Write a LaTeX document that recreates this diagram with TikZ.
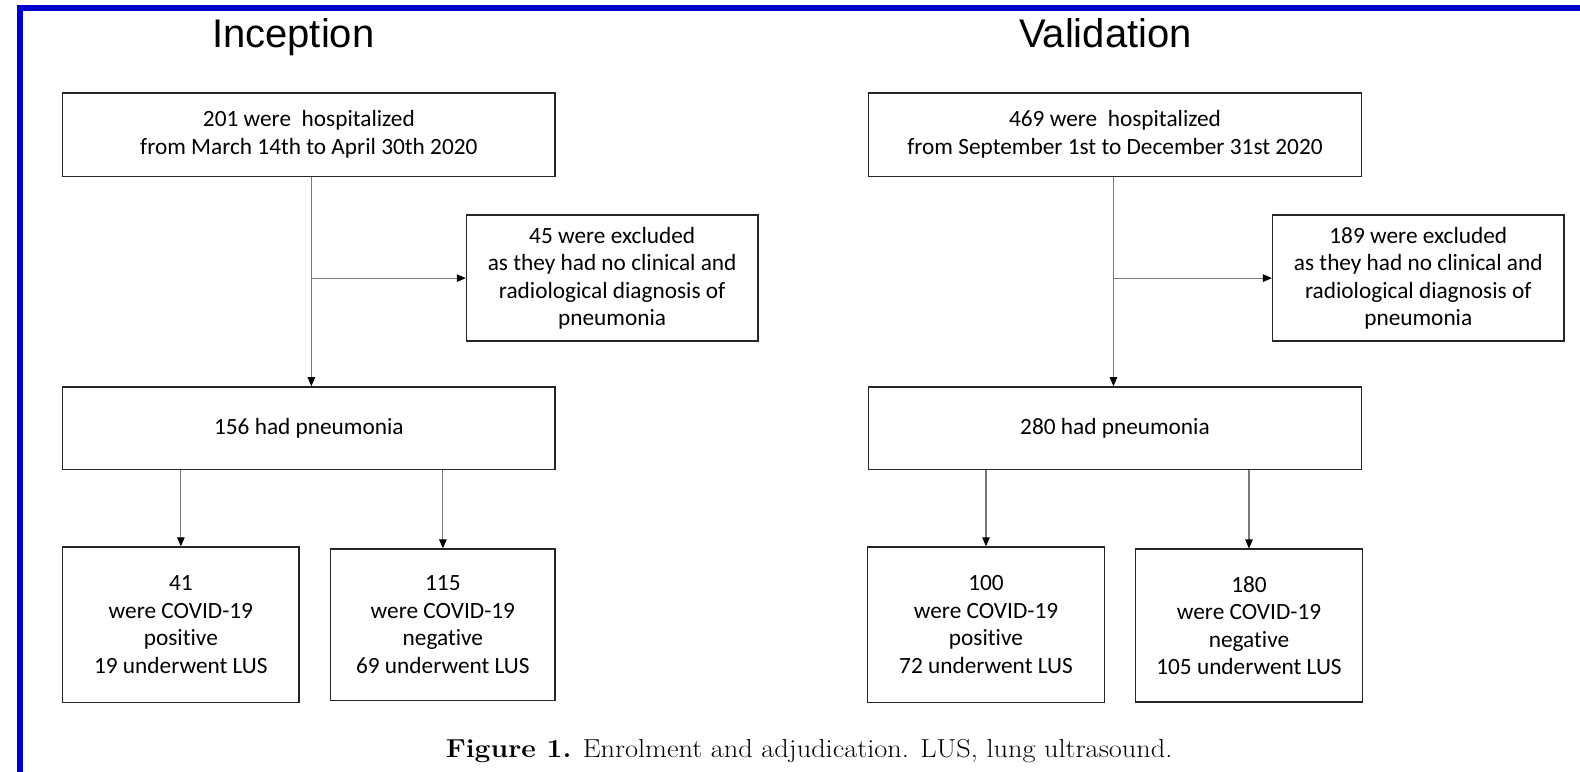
\documentclass[tikz,border=0pt]{standalone}
\usepackage{fontspec}
\setmainfont{Latin Modern Roman}
\newfontfamily\boxfont[Ligatures=NoCommon]{Carlito}
\newfontfamily\titlefont{Liberation Sans}
\newfontfamily\capfont[FakeStretch=1.09]{Latin Modern Roman}
\usetikzlibrary{arrows.meta}
\definecolor{frameblue}{RGB}{0,0,205}
\definecolor{linkgray}{RGB}{120,120,120}
\tikzset{
  flowbox/.style={draw=black!85, line width=1.6pt, fill=white, align=center, inner sep=0pt,
    font=\boxfont\fontsize{23.3}{27.5}\selectfont},
  link/.style={draw=linkgray, line width=1.1pt, -{Triangle[length=9pt,width=7.5pt,fill=black,color=black]}},
  paneltitle/.style={font=\titlefont\fontsize{40}{44}\selectfont, anchor=base},
}
\begin{document}
\begin{tikzpicture}[x=1.0077pt,y=-1.0077pt]
\useasboundingbox (0,0) rectangle (1568,766);
\fill[white] (0,0) rectangle (1568,766);
% blue frame
\fill[frameblue] (17,5) rectangle (1568,10.5);
\fill[frameblue] (17,5) rectangle (22.5,766);

% titles
\node[paneltitle] (t1) at (291,47) {Inception};
\node[paneltitle] (t2) at (1097,47) {Validation};

% Inception
\node[flowbox, minimum width=492.8pt, minimum height=83.6pt] (A) at (306.5,133.5)
  {201 were~ hospitalized\\from March 14th to April 30th 2020};
\node[flowbox, minimum width=291.2pt, minimum height=126pt] (B) at (607.5,276)
  {45 were excluded\\as they had no clinical and\\radiological diagnosis of\\pneumonia};
\node[flowbox, minimum width=492.8pt, minimum height=82.6pt] (C) at (306.5,425)
  {156 had pneumonia};
\node[flowbox, minimum width=236.8pt, minimum height=155.2pt] (D) at (179.5,620)
  {41\\were COVID-19\\positive\\19 underwent LUS};
\node[flowbox, minimum width=224.7pt, minimum height=151.2pt] (E) at (439.5,620)
  {115\\were COVID-19\\negative\\69 underwent LUS};

\coordinate (a1) at (309,0);
\draw[link] (A.south -| a1) -- (C.north -| a1);
\draw[link] (a1 |- B.west) -- (B.west);
\draw[link] (C.south -| D.north) -- (D.north);
\draw[link] (C.south -| E.north) -- (E.north);

% Validation
\node[flowbox, minimum width=492.8pt, minimum height=83.6pt] (A2) at (1106.5,133.5)
  {469 were~ hospitalized\\from September 1st to December 31st 2020};
\node[flowbox, minimum width=291.2pt, minimum height=126pt] (B2) at (1407.5,276)
  {189 were excluded\\as they had no clinical and\\radiological diagnosis of\\pneumonia};
\node[flowbox, minimum width=492.8pt, minimum height=82.6pt] (C2) at (1106.5,425)
  {280 had pneumonia};
\node[flowbox, minimum width=236.8pt, minimum height=155.2pt] (D2) at (978.5,620)
  {100\\were COVID-19\\positive\\72 underwent LUS};
\node[flowbox, minimum width=226.7pt, minimum height=153pt] (E2) at (1239.5,621)
  {180\\were COVID-19\\negative\\105 underwent LUS};

\coordinate (a2) at (1105,0);
\draw[link] (A2.south -| a2) -- (C2.north -| a2);
\draw[link] (a2 |- B2.west) -- (B2.west);
\draw[link] (C2.south -| D2.north) -- (D2.north);
\draw[link] (C2.south -| E2.north) -- (E2.north);

% caption
\node[font=\capfont\fontsize{26}{30}\selectfont] (cap) at (803,745)
  {\textbf{Figure 1.} Enrolment and adjudication. LUS, lung ultrasound.};
\end{tikzpicture}
\end{document}
